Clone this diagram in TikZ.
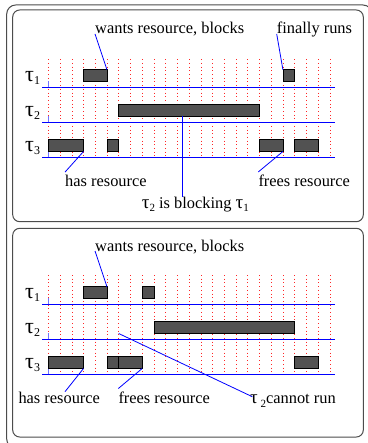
\documentclass[tikz,border=0pt]{standalone}
\usepackage{fontspec}
\setmainfont{Liberation Serif}
\newcommand\rowtau[1]{{\fontsize{22}{22}\selectfont τ}\raisebox{-3.5pt}{\fontsize{12}{12}\selectfont #1}}
\newcommand\txtau[1]{{\fontsize{19}{19}\selectfont τ}\raisebox{-3pt}{\fontsize{11}{11}\selectfont #1}}
\newcommand\tk[1]{48.3+11.73*#1}
\begin{document}
\begin{tikzpicture}[x=1pt,y=-1pt,
 frame/.style={draw=black!70, line width=1pt, rounded corners=7pt},
 gridline/.style={red!85, line width=0.5pt, dash pattern=on 0.7pt off 3pt},
 baseline/.style={blue, line width=0.9pt},
 axistick/.style={blue!55, line width=1pt},
 bar/.style={fill=black!68, draw=black, line width=0.6pt},
 lab/.style={font=\fontsize{16.4}{18}\selectfont, inner sep=0pt, anchor=base west},
 conn/.style={blue, line width=0.8pt},
 rowlab/.style={inner sep=0pt, anchor=base west}]
\useasboundingbox (0,0) rectangle (367,443);
% frames
\draw[frame, rounded corners=9pt] (6.7,5) rectangle (372,448);
\draw[frame] (12.7,10) rectangle (363.3,221.7);
\draw[frame] (12.7,228.3) rectangle (363.3,437);
% grids
\foreach \i in {0,...,24} {
  \draw[gridline] ({\tk{\i}},59.3) -- ({\tk{\i}},157.3);
  \draw[gridline] ({\tk{\i}},275) -- ({\tk{\i}},374.3);
}
% baselines and row labels
\foreach \b/\n in {87.3/1,122.3/2,157.3/3,304.3/1,339.3/2,374.3/3} {
  \draw[baseline] (42.3,\b) -- (335,\b);
  \draw[axistick] (48.3,\b) -- (48.3,\b-6.5);
  \node[rowlab] at (25,\b-6.2) {\rowtau{\n}};
}
% bars
\foreach \a/\c/\b in {3/5/87.3,20/21/87.3,6/18/122.3,0/3/157.3,5/6/157.3,18/20/157.3,21/23/157.3,
                      3/5/304.3,8/9/304.3,9/21/339.3,0/3/374.3,5/6/374.3,6/8/374.3,21/23/374.3} {
  \draw[bar] ({\tk{\a}},\b-17.6) rectangle ({\tk{\c}},\b-5.8);
}
% connection points
\coordinate (b1tr) at ({\tk{5}},69.7);
\coordinate (b1ftl) at ({\tk{20}},69.7);
\coordinate (b3br) at ({\tk{3}},151.5);
\coordinate (b3fbr) at ({\tk{20}},151.5);
\coordinate (b2bot) at (182.7,116.5);
\coordinate (b2end) at (182.7,196.7);
\coordinate (c1tr) at ({\tk{5}},286.7);
\coordinate (c3br) at ({\tk{3}},368.5);
\coordinate (c3fbr) at ({\tk{8}},368.5);
\coordinate (c2bot) at ({\tk{6}},333.5);
% top panel labels
\node[lab] (w1) at (95,34) {wants resource, blocks};
\node[lab] (f1) at (276.7,34) {finally runs};
\node[lab] (h1) at (65,186.7) {has resource};
\node[lab] (fr1) at (258.3,186.7) {frees resource};
\node[lab] (bl1) at (141.7,208.3) {\txtau{2} is blocking \txtau{1}};
\draw[conn] (w1.base west) -- (b1tr);
\draw[conn] (f1.base west) -- (b1ftl);
\draw[conn] ([yshift=3pt]h1.north west) -- (b3br);
\draw[conn] ([yshift=3pt]fr1.north west) -- (b3fbr);
\draw[conn] (b2bot) -- (b2end);
% bottom panel labels
\node[lab] (w2) at (95,251) {wants resource, blocks};
\node[lab] (h2) at (18.3,403.3) {has resource};
\node[lab] (fr2) at (118.3,403.3) {frees resource};
\node[lab] (cr2) at (250,403.3) {{\fontsize{19}{19}\selectfont τ}\,\raisebox{-4pt}{\fontsize{11}{11}\selectfont 2}cannot run};
\coordinate (h2s) at (65,391.7);
\coordinate (cr2s) at (252.3,396.7);
\draw[conn] (w2.base west) -- (c1tr);
\draw[conn] (h2s) -- (c3br);
\draw[conn] ([yshift=3pt]fr2.north west) -- (c3fbr);
\draw[conn] (c2bot) -- (cr2s);
\end{tikzpicture}
\end{document}
